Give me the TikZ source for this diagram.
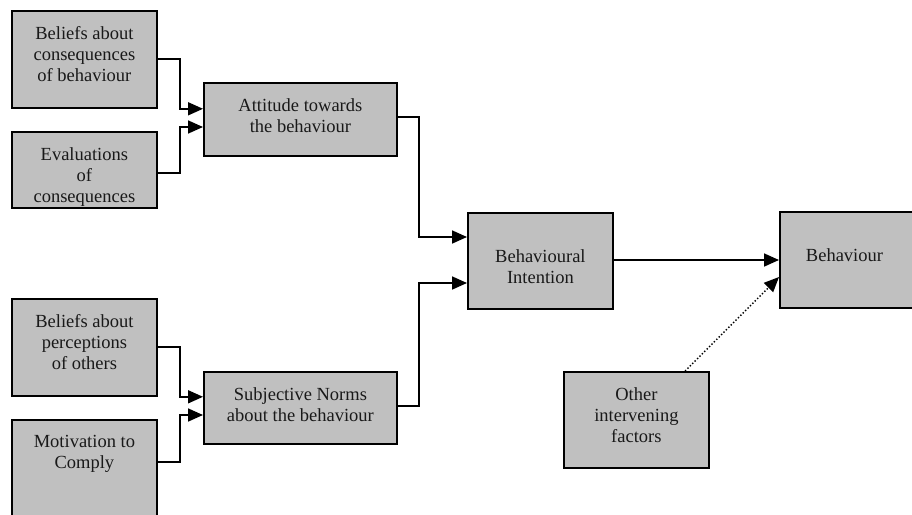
\documentclass[tikz,border=0pt]{standalone}
\usepackage{fontspec}
\setmainfont{Liberation Serif}
\usetikzlibrary{arrows.meta,calc}
\begin{document}
\begin{tikzpicture}[x=1pt,y=-1pt,
  box/.style={draw=black, line width=1.8pt, fill=boxgray, inner sep=0pt, anchor=north west},
  txt/.style={align=center, inner sep=0pt, anchor=north, font=\fontsize{18.5}{21.3}\selectfont, text=black!90},
  conn/.style={line width=1.7pt, -{Triangle[length=15pt,width=13pt]}},
  dotconn/.style={line width=1.4pt, dotted, -{Triangle[length=15pt,width=13pt]}}]
\definecolor{boxgray}{HTML}{C0C0C0}
\clip (0,0) rectangle (912,514);
\fill[white] (0,0) rectangle (912,514);
% boxes
\node[box, minimum width=145pt, minimum height=97pt] (b1) at (11,10) {};
\node[box, minimum width=145pt, minimum height=76pt] (b2) at (11,131) {};
\node[box, minimum width=193pt, minimum height=73pt] (att) at (203,82) {};
\node[box, minimum width=145pt, minimum height=97pt] (b3) at (11,298) {};
\node[box, minimum width=145pt, minimum height=110pt] (b4) at (11,419) {};
\node[box, minimum width=193pt, minimum height=72pt] (sn) at (203,371) {};
\node[box, minimum width=145pt, minimum height=96pt] (bi) at (467,212) {};
\node[box, minimum width=150pt, minimum height=96pt] (beh) at (779,211) {};
\node[box, minimum width=145pt, minimum height=96pt] (oth) at (563,371) {};
% texts
\node[txt] (b1t) at ($(b1.north)+(0,16)$) {Beliefs about\\consequences\\of behaviour};
\node[txt] (b2t) at ($(b2.north)+(0,16)$) {Evaluations\\of\\consequences};
\node[txt] (attt) at ($(att.north)+(0,16)$) {Attitude towards\\the behaviour};
\node[txt] (b3t) at ($(b3.north)+(0,16)$) {Beliefs about\\perceptions\\of others};
\node[txt] (b4t) at ($(b4.north)+(0,16)$) {Motivation to\\Comply};
\node[txt] (snt) at ($(sn.north)+(0,16)$) {Subjective Norms\\about the behaviour};
\node[txt] (bit) at ($(bi.north)+(0,37)$) {Behavioural\\Intention};
\node[txt] (beht) at ($(beh.north west)+(65.5,37)$) {Behaviour};
\node[txt] (otht) at ($(oth.north)+(0,16)$) {Other\\intervening\\factors};
% junction coordinates
\coordinate (j1) at (180,0);
\coordinate (j2) at (419,0);
% connectors
\draw[conn] ($(b1.north east)+(0,49)$) -| (j1 |- b1.south) -- (att.west |- b1.south);
\draw[conn] ($(b2.north east)+(0,42)$) -| ($(j1 |- b2.north)+(0,-4)$) -- ($(att.west |- b2.north)+(0,-4)$);
\draw[conn] ($(b3.north east)+(0,49)$) -| (j1 |- b3.south) -- (sn.west |- b3.south);
\draw[conn] ($(b4.north east)+(0,43)$) -| ($(j1 |- b4.north)+(0,-4)$) -- ($(sn.west |- b4.north)+(0,-4)$);
\draw[conn] ($(att.north east)+(0,35)$) -| ($(j2 |- bi.north)+(0,25)$) -- ($(bi.north west)+(0,25)$);
\draw[conn] ($(sn.north east)+(0,35)$) -| ($(j2 |- bi.north)+(0,71)$) -- ($(bi.north west)+(0,71)$);
\draw[conn] ($(bi.north east)+(0,48)$) -- ($(beh.north west)+(0,49)$);
\draw[dotconn] ($(oth.north west)+(122,0)$) -- ($(beh.north west)+(0,66)$);
\end{tikzpicture}
\end{document}
